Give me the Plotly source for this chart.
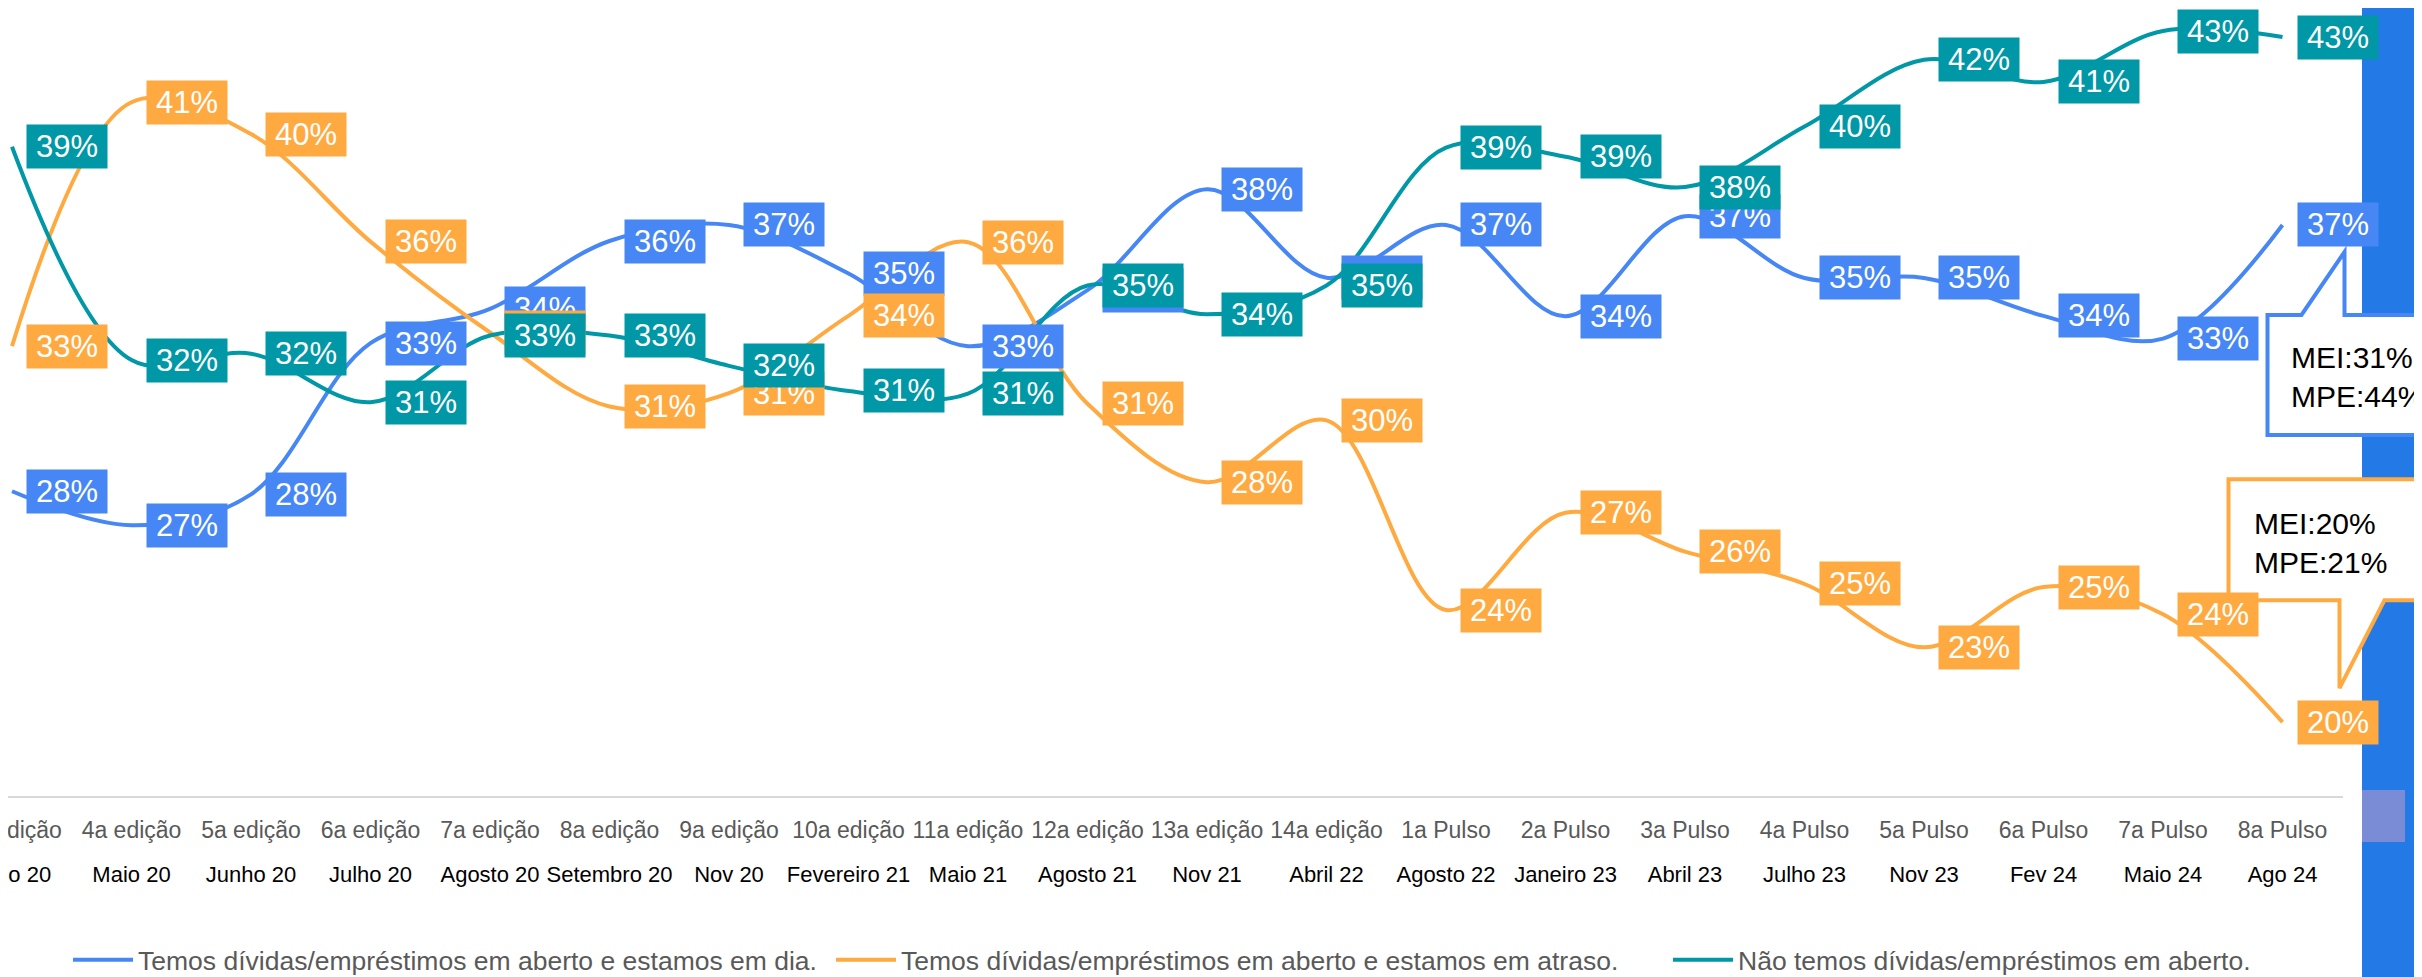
import plotly.graph_objects as go

# edições / pulsos and when they happened
categories = ["3a edição", "4a edição", "5a edição", "6a edição", "7a edição", "8a edição",
              "9a edição", "10a edição", "11a edição", "12a edição", "13a edição", "14a edição",
              "1a Pulso", "2a Pulso", "3a Pulso", "4a Pulso", "5a Pulso", "6a Pulso", "7a Pulso", "8a Pulso"]
periods = ["Maio 20", "Maio 20", "Junho 20", "Julho 20", "Agosto 20", "Setembro 20", "Nov 20",
           "Fevereiro 21", "Maio 21", "Agosto 21", "Nov 21", "Abril 22", "Agosto 22", "Janeiro 23",
           "Abril 23", "Julho 23", "Nov 23", "Fev 24", "Maio 24", "Ago 24"]

# % of respondents
em_dia = [27.76, 26.64, 27.66, 32.65, 33.78, 36.02, 36.55, 34.95, 32.55, 34.4,
          37.73, 34.81, 36.55, 33.54, 36.84, 34.8, 34.8, 33.55, 32.8, 36.55]
em_atraso = [32.55, 40.6, 39.55, 36.0, 33.0, 30.56, 31.0, 33.55, 35.98, 30.65,
             28.06, 30.1, 23.84, 27.05, 25.77, 24.7, 22.61, 24.6, 23.7, 20.14]
sem_dividas = [39.13, 32.09, 32.3, 30.7, 32.9, 32.9, 31.9, 31.07, 30.98, 34.55,
               33.6, 34.55, 39.1, 38.8, 37.8, 39.8, 42.0, 41.27, 42.95, 42.75]

series_names = ["Temos dívidas/empréstimos em aberto e estamos em dia.",
                "Temos dívidas/empréstimos em aberto e estamos em atraso.",
                "Não temos dívidas/empréstimos em aberto."]
colors = ["#4687F5", "#FFAA41", "#0097A6"]

# MEI / MPE breakdown for the last pulse
callout_em_dia = "MEI:31%<br>MPE:44%"
callout_em_atraso = "MEI:20%<br>MPE:21%"

FONT = "Liberation Sans, Arial, sans-serif"

# the page body has an 8px margin, so the figure is a bit smaller than the window
W, H = 2414, 969
PLOT_H = 789

legend_ids = ["legend", "legend2", "legend3"]
legend_left = [60, 823, 1660]  # where each legend entry starts, figure px

fig = go.Figure()
annotations = []
for name, vals, color, leg in zip(series_names, [em_dia, em_atraso, sem_dividas], colors, legend_ids):
    fig.add_trace(go.Scatter(
        x=categories, y=vals, name=name, mode='lines', legend=leg,
        line=dict(color=color, width=4, shape='spline', smoothing=1),
        hoverinfo='skip',
    ))
    for c, v in zip(categories, vals):
        annotations.append(dict(
            x=c, y=v, xref='x', yref='y', text=f"{round(v)}%", showarrow=False,
            xanchor='left', yanchor='middle', xshift=14, width=80, height=43,
            bgcolor=color, borderpad=0, align='center', valign='middle',
            font=dict(family=FONT, size=31, color='white'),
        ))

# speech-bubble callouts anchored on the last point
last = categories[-1]
bubble_em_dia = "M -15,-90 L 19,-90 L 62,-27 L 62,-90 L 170,-90 L 170,-210 L -15,-210 Z"
bubble_em_atraso = "M -54,243 L 136,243 L 136,122 L 102,122 L 57,34 L 57,122 L -54,122 Z"

shapes = [
    # x axis line (stops before the slide strip)
    dict(type='line', xref='paper', yref='paper', x0=0, x1=2335 / W, y0=0, y1=0,
         line=dict(color='#D9D9D9', width=2), layer='below'),
    # slide background strip on the right
    dict(type='rect', xref='paper', yref='paper', x0=2354 / W, x1=1.01, y0=-0.23, y1=1.02,
         fillcolor='#2379E6', line_width=0, layer='below'),
    dict(type='rect', xref='paper', yref='paper', x0=2354 / W, x1=2397 / W,
         y0=(PLOT_H - 834) / PLOT_H, y1=(PLOT_H - 782) / PLOT_H,
         fillcolor='#7A8CD6', line_width=0, layer='below'),
    dict(type='path', path=bubble_em_dia, xref='x', yref='y', xsizemode='pixel', ysizemode='pixel',
         xanchor=last, yanchor=em_dia[-1], fillcolor='white',
         line=dict(color=colors[0], width=4), layer='above'),
    dict(type='path', path=bubble_em_atraso, xref='x', yref='y', xsizemode='pixel', ysizemode='pixel',
         xanchor=last, yanchor=em_atraso[-1], fillcolor='white',
         line=dict(color=colors[1], width=4), layer='above'),
]

annotations.append(dict(x=last, y=em_dia[-1], text=callout_em_dia, showarrow=False,
                        xanchor='left', yanchor='middle', xshift=6, yshift=-152, align='left',
                        font=dict(family=FONT, size=30, color='black')))
annotations.append(dict(x=last, y=em_atraso[-1], text=callout_em_atraso, showarrow=False,
                        xanchor='left', yanchor='middle', xshift=-31, yshift=179, align='left',
                        font=dict(family=FONT, size=30, color='black')))

ticktext = [f"<span style='font-size:23px;color:#595959'>{c}</span><br>"
            f"<span style='font-size:22px;color:#000000'>{p}</span>"
            for c, p in zip(categories, periods)]

legend_style = dict(orientation='h', xanchor='left', y=(PLOT_H - 952) / PLOT_H, yanchor='middle',
                    itemwidth=60, bgcolor='rgba(0,0,0,0)',
                    font=dict(family=FONT, size=26.5, color='#595959'))

# 119.5 px per category, first category 4 px from the figure's left edge
x0 = -4 / 119.5
fig.update_layout(
    width=W, height=H,
    margin=dict(l=0, r=0, t=0, b=H - PLOT_H, autoexpand=False),
    plot_bgcolor='rgba(0,0,0,0)', paper_bgcolor='white',
    font=dict(family=FONT),
    showlegend=True,
    legend=dict(legend_style, x=legend_left[0] / W),
    legend2=dict(legend_style, x=legend_left[1] / W),
    legend3=dict(legend_style, x=legend_left[2] / W),
    xaxis=dict(type='category', range=[x0, x0 + W / 119.5], tickvals=categories, ticktext=ticktext,
               showline=False, ticks='', showgrid=False, zeroline=False, tickangle=0,
               automargin=False, tickfont=dict(size=34), ticklabelstandoff=6,
               ticklabeloverflow='allow'),
    yaxis=dict(range=[17.67, 43.71], visible=False, showgrid=False, zeroline=False, automargin=False),
    shapes=shapes,
    annotations=annotations,
)

fig.write_html("out.html")
